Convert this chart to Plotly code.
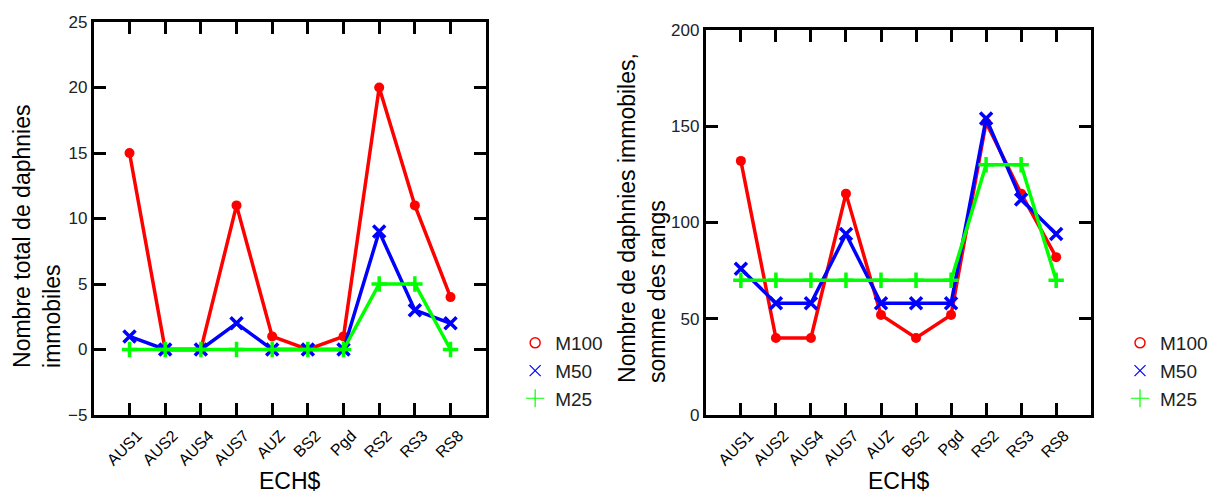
import plotly.graph_objects as go

categories = ["AUS1", "AUS2", "AUS4", "AUS7", "AUZ", "BS2", "Pgd", "RS2", "RS3", "RS8"]

# Left panel: total immobile daphnia
left_m100 = [15, 0, 0, 11, 1, 0, 1, 20, 11, 4]
left_m50 = [1, 0, 0, 2, 0, 0, 0, 9, 3, 2]
left_m25 = [0, 0, 0, 0, 0, 0, 0, 5, 5, 0]

# Right panel: sum of ranks
right_m100 = [132, 40, 40, 115, 52, 40, 52, 152, 115, 82]
right_m50 = [76, 58, 58, 94, 58, 58, 58, 154, 112, 94]
right_m25 = [70, 70, 70, 70, 70, 70, 70, 130, 130, 70]

series_names = ["M100", "M50", "M25"]
colors = ["#ff0000", "#0000ff", "#00ff00"]
plot_markers = [
    dict(symbol="circle", size=10),
    dict(symbol="x-thin", size=12, line=dict(width=3.5)),
    dict(symbol="cross-thin", size=11, line=dict(width=3.5)),
]
legend_markers = [
    dict(symbol="circle-open", size=10, line=dict(width=1.5)),
    dict(symbol="x-thin-open", size=11, line=dict(width=1.2)),
    dict(symbol="cross-thin-open", size=13, line=dict(width=1.2)),
]

FONT = "Arial, Liberation Sans, sans-serif"

fig = go.Figure()

panels = [
    ("x", "y", "legend", [left_m100, left_m50, left_m25]),
    ("x2", "y2", "legend2", [right_m100, right_m50, right_m25]),
]
for xa, ya, lg, data in panels:
    for name, col, mk, vals in zip(series_names, colors, plot_markers, data):
        m = dict(mk)
        m["color"] = col
        if "line" in m:
            m["line"] = dict(m["line"], color=col)
        fig.add_trace(go.Scatter(
            x=categories, y=vals, xaxis=xa, yaxis=ya, mode="lines+markers",
            line=dict(color=col, width=3.5), marker=m, showlegend=False,
            name=name, hoverinfo="x+y+name",
        ))
    for name, col, mk in zip(series_names, colors, legend_markers):
        m = dict(mk)
        m["color"] = col
        m["line"] = dict(m["line"], color=col)
        fig.add_trace(go.Scatter(
            x=[None], y=[None], xaxis=xa, yaxis=ya, mode="markers",
            marker=m, name=name, legend=lg, showlegend=True,
        ))

axis_common = dict(
    showline=True, linewidth=3, linecolor="black", mirror="ticks",
    ticks="inside", ticklen=12, tickwidth=3, tickcolor="black",
    showgrid=False, zeroline=False, automargin=False,
)
xcommon = dict(axis_common, type="category", range=[-1, 10], tickangle=-45,
               ticklabelshift=8, ticklabelstandoff=2,
               tickfont=dict(family=FONT, size=16, color="black"))
ytickfont = dict(family=FONT, size=17, color="#222")
legfont = dict(family=FONT, size=19, color="#222")

fig.update_layout(
    width=1213, height=493,
    margin=dict(l=0, r=0, t=0, b=0),
    paper_bgcolor="white", plot_bgcolor="white",
    font=dict(family=FONT, color="black"),
    xaxis=dict(xcommon, domain=[94 / 1213, 487 / 1213], anchor="y"),
    yaxis=dict(axis_common, domain=[(493 - 415) / 493, (493 - 22) / 493], anchor="x",
               range=[-5, 25], tickvals=[-5, 0, 5, 10, 15, 20, 25], tickfont=ytickfont),
    xaxis2=dict(xcommon, domain=[707 / 1213, 1093 / 1213], anchor="y2"),
    yaxis2=dict(axis_common, domain=[(493 - 415) / 493, (493 - 30) / 493], anchor="x2",
                range=[0, 200], tickvals=[0, 50, 100, 150, 200], tickfont=ytickfont),
    legend=dict(x=516 / 1213, y=(493 - 324) / 493, xanchor="left", yanchor="top",
                font=legfont, bgcolor="rgba(0,0,0,0)", tracegroupgap=0, itemwidth=30),
    legend2=dict(x=1122 / 1213, y=(493 - 324) / 493, xanchor="left", yanchor="top",
                 font=legfont, bgcolor="rgba(0,0,0,0)", tracegroupgap=0, itemwidth=30),
    annotations=[
        dict(text="Nombre total de daphnies<br>immobiles", xref="paper", yref="paper",
             x=37 / 1213, y=(493 - 236) / 493, xanchor="center", yanchor="middle",
             textangle=-90, align="left", showarrow=False,
             font=dict(family=FONT, size=23, color="black")),
        dict(text="Nombre de daphnies immobiles,<br>somme des rangs", xref="paper", yref="paper",
             x=643 / 1213, y=(493 - 218) / 493, xanchor="center", yanchor="middle",
             textangle=-90, align="left", showarrow=False,
             font=dict(family=FONT, size=23, color="black")),
        dict(text="ECH$", xref="paper", yref="paper",
             x=290 / 1213, y=(493 - 481) / 493, xanchor="center", yanchor="middle",
             showarrow=False, font=dict(family=FONT, size=23, color="black")),
        dict(text="ECH$", xref="paper", yref="paper",
             x=900 / 1213, y=(493 - 481) / 493, xanchor="center", yanchor="middle",
             showarrow=False, font=dict(family=FONT, size=23, color="black")),
    ],
)

fig.write_html("out.html", config={"displayModeBar": False},
               post_script="document.body.style.margin='0';document.body.style.overflow='hidden';")
